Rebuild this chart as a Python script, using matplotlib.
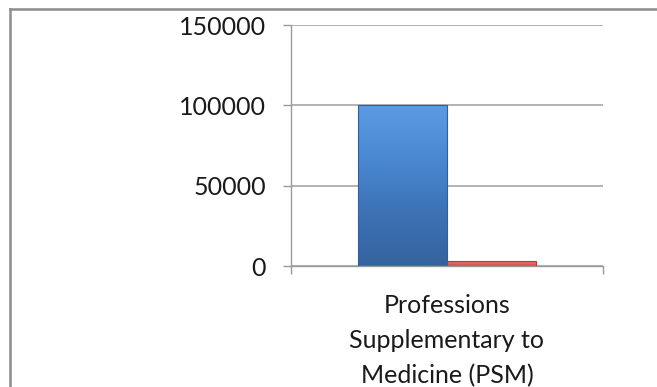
import numpy as np
import matplotlib.pyplot as plt
from matplotlib.lines import Line2D
from matplotlib.colors import LinearSegmentedColormap

# values
categories = ['Professions\nSupplementary to\nMedicine (PSM)']
series_a = [100000]
series_b = [3000]
y_ticks = [0, 50000, 100000, 150000]

plt.rcParams['font.family'] = ['Lato', 'DejaVu Sans']

fig = plt.figure(figsize=(6.57, 3.87), dpi=100)
ax = fig.add_axes([291 / 657, 1 - 266 / 387, 312 / 657, 241 / 387])

x = np.arange(len(categories))
w = 0.285


def gradient_bar(ax, xc, height, colors, edge):
    # bar filled with a vertical gradient (light at top, darker at bottom)
    bars = ax.bar(xc, height, width=w, color='none', edgecolor=edge, linewidth=0.8, zorder=3)
    cm = LinearSegmentedColormap.from_list('g', colors)
    for b in bars:
        x0, y0 = b.get_x(), b.get_y()
        img = np.linspace(0, 1, 64).reshape(-1, 1)
        im = ax.imshow(img, cmap=cm, aspect='auto', zorder=2, origin='upper',
                       extent=[x0, x0 + b.get_width(), y0, y0 + b.get_height()])
        im.set_clip_path(b)
    return bars


gradient_bar(ax, x - w / 2, series_a, ['#5C9BE3', '#4A88D2', '#3D72B5', '#34649F'], '#2F5F9E')
gradient_bar(ax, x + w / 2, series_b, ['#F07878', '#D84A4A'], '#B03A3A')

ax.set_xlim(-0.5, 0.5)
ax.set_ylim(0, 150000)
ax.set_yticks(y_ticks)
ax.set_yticklabels([str(v) for v in y_ticks], fontsize=18, color='#1a1a1a')
ax.tick_params(axis='y', length=6, width=1, color='#9a9a9a', pad=12)

ax.set_xticks(x)
ax.set_xticklabels(categories, fontsize=18, color='#1a1a1a', linespacing=1.62)
ax.tick_params(axis='x', length=0, pad=20)
ax.set_xticks([-0.5, 0.5], minor=True)
ax.tick_params(axis='x', which='minor', length=6, width=1, color='#9a9a9a')

ax.grid(axis='y', color='#a6a6a6', linewidth=1.2, zorder=0)
ax.set_axisbelow(True)
for s in ['top', 'right']:
    ax.spines[s].set_visible(False)
for s in ['left', 'bottom']:
    ax.spines[s].set_color('#9a9a9a')
    ax.spines[s].set_linewidth(1)

# outer chart border (clipped at right and bottom in the reference)
fig.add_artist(Line2D([10 / 657, 1.0], [1 - 9 / 387, 1 - 9 / 387], color='#8c8c8c', linewidth=1.8))
fig.add_artist(Line2D([10 / 657, 10 / 657], [0.0, 1 - 9 / 387], color='#8c8c8c', linewidth=1.8))

fig.savefig('out.png', dpi=100)
